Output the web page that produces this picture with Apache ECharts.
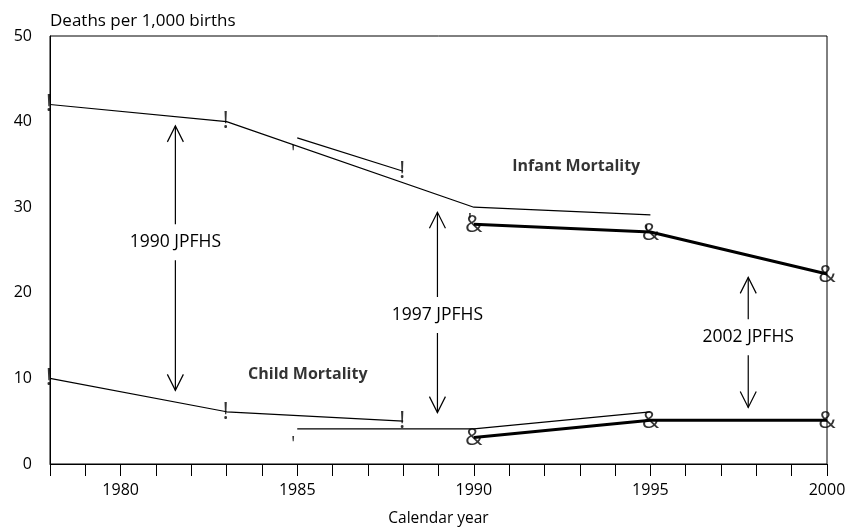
<!DOCTYPE html>
<html>
<head>
<meta charset="utf-8">
<script src="https://cdn.jsdelivr.net/npm/echarts@6/dist/echarts.min.js"></script>
<style>
  html, body { margin: 0; padding: 0; background: #fff; }
  #chart { width: 849px; height: 532px; }
</style>
</head>
<body>
<div id="chart"></div>
<script>
// thin trend lines as they appear in the figure
var infantLineA = [[1978, 42], [1983, 40], [1990, 30], [1995, 29.1]];
var infantLineB = [[1985, 38.1], [1988, 34.2]];
var childLineA = [[1978, 10], [1983, 6.1], [1988, 5.0]];
var childLineB = [[1985, 4.1], [1990, 4.1], [1995, 6.1]];
// 2002 JPFHS (thick lines)
var infant2002 = [[1990, 28.0], [1995, 27.1], [2000, 22.2]];
var child2002 = [[1990, 3.1], [1995, 5.1], [2000, 5.1]];
// point markers, drawn with the glyphs of the original figure
var marks1990 = [[1978, 42], [1983, 40], [1988, 34.2], [1978, 10], [1983, 6.1], [1988, 5.0]];
var marks1997 = [[1985, 36.3], [1990, 28.4], [1995, 27.0], [1985, 2.3]];
var marks2002 = infant2002.concat(child2002);
// survey arrows: x, top, bottom, label position
var arrowYears = [1981.55, 1988.97, 1997.77];
var arrowTop = [39.5, 29.4, 21.8];
var arrowBottom = [8.6, 6.0, 6.6];
var arrowLabelY = [25.9, 17.4, 14.8];
var arrowLabels = ["1990 JPFHS", "1997 JPFHS", "2002 JPFHS"];
// series names in the plot
var noteNames = ["Infant Mortality", "Child Mortality"];
var notePos = [[1992.9, 34.8], [1985.3, 10.5]];

var FONT = "Open Sans";
var chart = echarts.init(document.getElementById("chart"));

function lineSeries(data, width) {
  return {
    type: "line",
    data: data,
    symbol: "none",
    lineStyle: { color: "#000", width: width },
    silent: true,
    z: 3
  };
}

function glyphSeries(data, glyph, offset, size) {
  return {
    type: "scatter",
    data: data,
    symbolSize: 1,
    clip: false,
    itemStyle: { color: "rgba(0,0,0,0)" },
    label: {
      show: true,
      position: "inside",
      formatter: glyph,
      offset: offset || [0, 0],
      color: "#000",
      fontFamily: FONT,
      fontSize: size || 21
    },
    silent: true,
    z: 5
  };
}

var arrowData = arrowYears.map(function (x, i) {
  return [x, arrowTop[i], arrowBottom[i], arrowLabelY[i]];
});

var option = {
  animation: false,
  backgroundColor: "#fff",
  textStyle: { fontFamily: FONT },
  grid: {
    left: 50, right: 22, top: 36, bottom: 68,
    show: true, borderColor: "#000", borderWidth: 1
  },
  xAxis: {
    type: "value",
    min: 1978, max: 2000, interval: 1,
    name: "Calendar year",
    nameLocation: "middle",
    nameGap: 47,
    nameTextStyle: { color: "#000", fontSize: 15.5, fontFamily: FONT },
    axisLine: { lineStyle: { color: "#000", width: 1 } },
    axisTick: { show: true, length: 12, lineStyle: { color: "#000" } },
    axisLabel: {
      color: "#000", fontSize: 16, fontFamily: FONT, margin: 18,
      formatter: function (v) { return v % 5 === 0 ? String(v) : ""; }
    },
    splitLine: { show: false }
  },
  yAxis: {
    type: "value",
    min: 0, max: 50, interval: 10,
    name: "Deaths per 1,000 births",
    nameLocation: "end",
    nameGap: 6,
    nameTextStyle: { color: "#000", fontSize: 17, fontFamily: FONT, align: "left", verticalAlign: "bottom" },
    axisLine: { show: true, lineStyle: { color: "#000", width: 1 } },
    axisTick: { show: false },
    axisLabel: { color: "#000", fontSize: 16, fontFamily: FONT, margin: 18 },
    splitLine: { show: false }
  },
  series: [
    lineSeries(infantLineA, 1.2),
    lineSeries(infantLineB, 1.2),
    lineSeries(childLineA, 1.2),
    lineSeries(childLineB, 1.2),
    lineSeries(infant2002, 3),
    lineSeries(child2002, 3),
    glyphSeries(marks1990, "!", [-1, 0], 24),
    glyphSeries(marks1997, "'", [-4, 0], 20),
    glyphSeries(marks2002, "&", [0, 1], 24),
    {
      type: "scatter",
      data: notePos.map(function (p, i) { return { value: p, name: noteNames[i] }; }),
      symbolSize: 1,
      itemStyle: { color: "rgba(0,0,0,0)" },
      label: {
        show: true, position: "inside",
        formatter: function (p) { return p.name; },
        color: "#000", fontFamily: FONT, fontSize: 16, fontWeight: "bold"
      },
      silent: true,
      z: 6
    },
    {
      type: "custom",
      data: arrowData,
      silent: true,
      clip: false,
      z: 4,
      renderItem: function (params, api) {
        var top = api.coord([api.value(0), api.value(1)]);
        var bot = api.coord([api.value(0), api.value(2)]);
        var mid = api.coord([api.value(0), api.value(3)]);
        var label = arrowLabels[params.dataIndex];
        var x = top[0];
        var stroke = { stroke: "#000", lineWidth: 1.2, fill: null };
        return {
          type: "group",
          children: [
            { type: "line", shape: { x1: x, y1: top[1], x2: x, y2: bot[1] }, style: stroke },
            { type: "polyline", shape: { points: [[x - 8, top[1] + 16], [x, top[1]], [x + 8, top[1] + 16]] }, style: stroke },
            { type: "polyline", shape: { points: [[x - 8, bot[1] - 16], [x, bot[1]], [x + 8, bot[1] - 16]] }, style: stroke },
            {
              type: "text",
              x: x, y: mid[1],
              style: {
                text: label, align: "center", verticalAlign: "middle",
                fontFamily: FONT, fontSize: 17.5, fill: "#000",
                backgroundColor: "#fff", padding: [9, 3]
              }
            }
          ]
        };
      }
    }
  ]
};

chart.setOption(option);
</script>
</body>
</html>
